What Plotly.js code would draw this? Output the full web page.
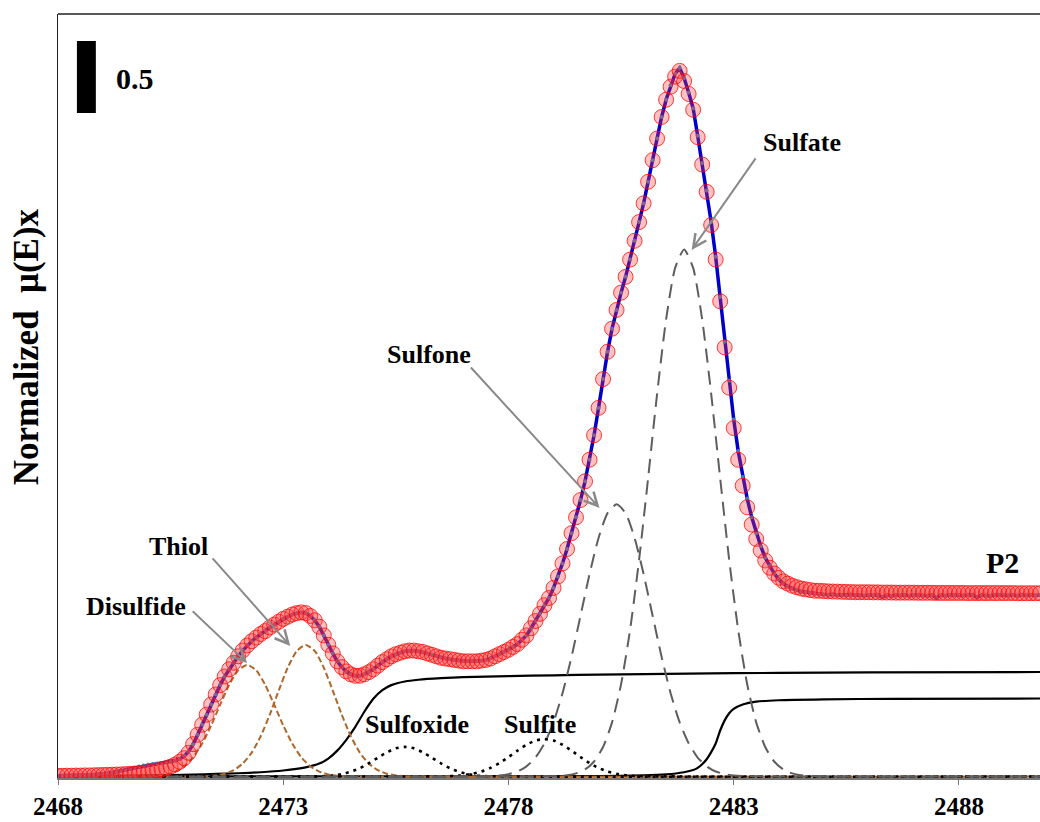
<!DOCTYPE html>
<html><head><meta charset="utf-8">
<script src="https://cdn.plot.ly/plotly-3.0.1.min.js"></script>
<style>html,body{margin:0;padding:0;background:#fff}#chart{width:1040px;height:822px}</style>
</head><body><div id="chart"></div>
<script>
// ---------- data ----------
const energy = [
2468.0,2468.1,2468.2,2468.3,2468.4,2468.5,2468.6,2468.7,2468.8,2468.9,
2469.0,2469.1,2469.2,2469.3,2469.4,2469.5,2469.6,2469.7,2469.8,2469.9,
2470.0,2470.1,2470.2,2470.3,2470.4,2470.5,2470.6,2470.7,2470.8,2470.9,
2471.0,2471.1,2471.2,2471.3,2471.4,2471.5,2471.6,2471.7,2471.8,2471.9,
2472.0,2472.1,2472.2,2472.3,2472.4,2472.5,2472.6,2472.7,2472.8,2472.9,
2473.0,2473.1,2473.2,2473.3,2473.4,2473.5,2473.6,2473.7,2473.8,2473.9,
2474.0,2474.1,2474.2,2474.3,2474.4,2474.5,2474.6,2474.7,2474.8,2474.9,
2475.0,2475.1,2475.2,2475.3,2475.4,2475.5,2475.6,2475.7,2475.8,2475.9,
2476.0,2476.1,2476.2,2476.3,2476.4,2476.5,2476.6,2476.7,2476.8,2476.9,
2477.0,2477.1,2477.2,2477.3,2477.4,2477.5,2477.6,2477.7,2477.8,2477.9,
2478.0,2478.1,2478.2,2478.3,2478.4,2478.5,2478.6,2478.7,2478.8,2478.9,
2479.0,2479.1,2479.2,2479.3,2479.4,2479.5,2479.6,2479.7,2479.8,2479.9,
2480.0,2480.1,2480.2,2480.3,2480.4,2480.5,2480.6,2480.7,2480.8,2480.9,
2481.0,2481.1,2481.2,2481.3,2481.4,2481.5,2481.6,2481.7,2481.8,2481.9,
2482.0,2482.1,2482.2,2482.3,2482.4,2482.5,2482.6,2482.7,2482.8,2482.9,
2483.0,2483.1,2483.2,2483.3,2483.4,2483.5,2483.6,2483.7,2483.8,2483.9,
2484.0,2484.1,2484.2,2484.3,2484.4,2484.5,2484.6,2484.7,2484.8,2484.9,
2485.0,2485.1,2485.2,2485.3,2485.4,2485.5,2485.6,2485.7,2485.8,2485.9,
2486.0,2486.1,2486.2,2486.3,2486.4,2486.5,2486.6,2486.7,2486.8,2486.9,
2487.0,2487.1,2487.2,2487.3,2487.4,2487.5,2487.6,2487.7,2487.8,2487.9,
2488.0,2488.1,2488.2,2488.3,2488.4,2488.5,2488.6,2488.7,2488.8,2488.9,
2489.0,2489.1,2489.2,2489.3,2489.4,2489.5,2489.6,2489.7,2489.8];

// measured spectrum (blue line)
const dataMu = [
0.006,0.006,0.007,0.008,0.009,0.010,0.011,0.012,0.014,0.016,
0.019,0.023,0.028,0.034,0.041,0.048,0.055,0.062,0.069,0.076,
0.082,0.087,0.091,0.095,0.099,0.104,0.111,0.122,0.142,0.175,
0.225,0.29,0.36,0.43,0.50,0.57,0.635,0.695,0.745,0.79,
0.835,0.875,0.91,0.94,0.965,0.99,1.01,1.035,1.055,1.075,
1.095,1.11,1.125,1.135,1.14,1.135,1.115,1.085,1.04,0.98,
0.915,0.855,0.80,0.76,0.73,0.71,0.70,0.70,0.71,0.725,
0.745,0.77,0.795,0.815,0.835,0.85,0.86,0.87,0.875,0.875,
0.87,0.865,0.855,0.845,0.835,0.825,0.82,0.815,0.81,0.805,
0.80,0.80,0.80,0.80,0.805,0.81,0.82,0.835,0.85,0.865,
0.88,0.90,0.92,0.95,0.98,1.03,1.08,1.13,1.19,1.24,
1.31,1.39,1.48,1.58,1.69,1.80,1.92,2.05,2.20,2.37,
2.56,2.76,2.95,3.11,3.24,3.36,3.47,3.59,3.72,3.85,
3.98,4.13,4.28,4.43,4.58,4.70,4.80,4.88,4.92,4.85,
4.75,4.64,4.45,4.26,4.07,3.85,3.61,3.33,3.02,2.75,
2.48,2.26,2.08,1.93,1.80,1.69,1.60,1.52,1.46,1.41,
1.37,1.34,1.32,1.305,1.295,1.285,1.28,1.275,1.27,1.268,
1.265,1.262,1.266,1.260,1.262,1.258,1.264,1.259,1.261,1.255,
1.262,1.258,1.263,1.245,1.260,1.254,1.261,1.258,1.262,1.256,
1.259,1.263,1.257,1.255,1.261,1.240,1.262,1.256,1.260,1.258,
1.262,1.257,1.259,1.263,1.243,1.260,1.258,1.255,1.261,1.259,
1.262,1.257,1.260,1.256,1.263,1.258,1.261,1.257,1.260];

// fitted spectrum (red circles)
const fitMu = [
0.005,0.005,0.006,0.006,0.007,0.007,0.008,0.008,0.009,0.010,
0.011,0.012,0.013,0.014,0.015,0.017,0.019,0.021,0.024,0.027,
0.031,0.036,0.042,0.049,0.058,0.069,0.083,0.102,0.128,0.165,
0.225,0.29,0.36,0.43,0.50,0.57,0.635,0.695,0.745,0.79,
0.835,0.875,0.91,0.94,0.965,0.99,1.01,1.035,1.055,1.075,
1.095,1.11,1.125,1.135,1.14,1.135,1.115,1.085,1.04,0.98,
0.915,0.855,0.80,0.76,0.73,0.71,0.70,0.70,0.71,0.725,
0.745,0.77,0.795,0.815,0.835,0.85,0.86,0.87,0.875,0.875,
0.87,0.865,0.855,0.845,0.835,0.825,0.82,0.815,0.81,0.805,
0.80,0.80,0.80,0.80,0.805,0.81,0.82,0.835,0.85,0.865,
0.88,0.90,0.92,0.95,0.98,1.03,1.08,1.13,1.19,1.24,
1.31,1.39,1.48,1.58,1.69,1.80,1.92,2.05,2.20,2.37,
2.56,2.76,2.95,3.11,3.24,3.36,3.47,3.59,3.72,3.85,
3.98,4.13,4.28,4.43,4.58,4.70,4.79,4.86,4.90,4.83,
4.74,4.63,4.44,4.25,4.06,3.83,3.59,3.30,2.98,2.70,
2.42,2.20,2.02,1.87,1.75,1.65,1.57,1.50,1.45,1.41,
1.38,1.355,1.34,1.325,1.315,1.305,1.30,1.295,1.29,1.29,
1.288,1.286,1.285,1.284,1.283,1.282,1.281,1.28,1.28,1.28,
1.28,1.279,1.279,1.278,1.278,1.278,1.277,1.277,1.277,1.277,
1.277,1.276,1.276,1.276,1.276,1.275,1.275,1.275,1.275,1.275,
1.275,1.275,1.274,1.274,1.274,1.274,1.274,1.274,1.274,1.274,
1.274,1.274,1.274,1.273,1.273,1.273,1.273,1.273,1.273];

// fitted components
const disulfideE  = [2468,2470.0,2470.2,2470.4,2470.6,2470.8,2471.0,2471.2,2471.4,2471.6,2471.8,2472.0,2472.2,2472.4,2472.6,2472.8,2473.0,2473.2,2473.4,2473.6,2473.8,2474.0,2474.2,2474.4,2489.8];
const disulfideMu = [0,0.002,0.006,0.015,0.034,0.071,0.134,0.229,0.355,0.499,0.637,0.738,0.775,0.738,0.637,0.499,0.355,0.229,0.134,0.071,0.034,0.015,0.006,0.002,0];

const thiolE  = [2468,2471.3,2471.5,2471.7,2471.9,2472.1,2472.3,2472.5,2472.7,2472.9,2473.1,2473.3,2473.5,2473.7,2473.9,2474.1,2474.3,2474.5,2474.7,2474.9,2475.1,2475.3,2475.5,2475.7,2489.8];
const thiolMu = [0,0.003,0.008,0.020,0.044,0.090,0.166,0.280,0.429,0.597,0.756,0.872,0.914,0.872,0.756,0.597,0.429,0.280,0.166,0.090,0.044,0.020,0.008,0.003,0];

const sulfoxideE  = [2468,2473.9,2474.1,2474.3,2474.5,2474.7,2474.9,2475.1,2475.3,2475.5,2475.7,2475.9,2476.1,2476.3,2476.5,2476.7,2476.9,2477.1,2477.3,2477.5,2489.8];
const sulfoxideMu = [0,0.003,0.008,0.017,0.034,0.058,0.092,0.131,0.168,0.196,0.206,0.196,0.168,0.131,0.092,0.058,0.034,0.017,0.008,0.003,0];

const sulfiteE  = [2468,2476.6,2476.8,2477.0,2477.2,2477.4,2477.6,2477.8,2478.0,2478.2,2478.4,2478.6,2478.8,2479.0,2479.2,2479.4,2479.6,2479.8,2480.0,2480.2,2480.4,2480.6,2480.8,2481.0,2489.8];
const sulfiteMu = [0,0.002,0.004,0.0095,0.019,0.035,0.060,0.094,0.135,0.180,0.221,0.250,0.26,0.250,0.221,0.180,0.135,0.094,0.060,0.035,0.019,0.0095,0.004,0.002,0];

const sulfoneE  = [2468,2477.6,2477.8,2478.0,2478.2,2478.4,2478.6,2478.8,2479.0,2479.2,2479.4,2479.6,2479.8,2480.0,2480.2,2480.4,2480.6,2480.8,2481.0,2481.2,2481.4,2481.6,2481.8,2482.0,2482.2,2482.4,2482.6,2482.8,2483.0,2483.2,2489.8];
const sulfoneMu = [0,0.003,0.007,0.017,0.035,0.071,0.132,0.231,0.377,0.579,0.831,1.117,1.406,1.657,1.829,1.89,1.829,1.657,1.406,1.117,0.831,0.579,0.377,0.231,0.132,0.071,0.035,0.017,0.007,0.003,0];

const sulfateE  = [2468,2479.1,2479.3,2479.5,2479.7,2479.9,2480.1,2480.3,2480.5,2480.7,2480.9,2481.1,2481.3,2481.5,2481.7,2481.9,2482.1,2482.3,2482.5,2482.7,2482.9,2483.1,2483.3,2483.5,2483.7,2483.9,2484.1,2484.3,2484.5,2484.7,2489.8];
const sulfateMu = [0,0.0034,0.009,0.0219,0.0496,0.1045,0.205,0.376,0.641,1.018,1.505,2.072,2.658,3.175,3.532,3.66,3.532,3.175,2.658,2.072,1.505,1.018,0.641,0.376,0.205,0.1045,0.0496,0.0219,0.009,0.0034,0];

const step1E  = [2468,2469,2470,2470.5,2471,2471.5,2472,2472.5,2473,2473.5,2473.8,2474.0,2474.2,2474.4,2474.6,2474.8,2475.0,2475.2,2475.4,2475.7,2476.0,2476.5,2477,2478,2479,2480,2482,2484,2486,2489.8];
const step1Mu = [0.003,0.006,0.009,0.011,0.014,0.018,0.023,0.030,0.042,0.064,0.09,0.125,0.18,0.255,0.345,0.45,0.54,0.60,0.635,0.66,0.672,0.683,0.69,0.698,0.703,0.708,0.715,0.72,0.723,0.726];

const step2E  = [2468,2479,2480,2481,2481.5,2481.9,2482.1,2482.2,2482.3,2482.4,2482.5,2482.6,2482.7,2482.8,2482.9,2483.0,2483.2,2483.5,2484.0,2485.0,2486.5,2489.8];
const step2Mu = [0,0.002,0.004,0.008,0.015,0.03,0.045,0.06,0.085,0.12,0.17,0.23,0.32,0.39,0.44,0.47,0.50,0.52,0.53,0.536,0.54,0.542];

const tickVals   = [2468,2473,2478,2483,2488];
const tickLabels = ['2468','2473','2478','2483','2488'];

const labelText = ['Sulfate','Sulfone','Thiol','Disulfide','Sulfoxide','Sulfite'];
const labelX    = [2484.51,2476.24,2470.67,2469.73,2475.96,2478.69];
const labelY    = [4.40,2.934,1.595,1.178,0.360,0.360];

const arrowHeadX = [2482.067,2480.022,2473.156,2472.20];
const arrowHeadY = [3.657,1.865,0.907,0.789];
const arrowTailDX = [65,-130,-79,-56];
const arrowTailDY = [-93,-142,-89,-53];

const scaleBar = {x0:2468.42, x1:2468.84, y0:4.608, size:0.5, label:'0.5'};

// ---------- drawing ----------
const SERIF = 'Liberation Serif, "Times New Roman", serif';

function comp(x, y, color, dash, width){
  return {x:x, y:y, type:'scatter', mode:'lines', hoverinfo:'skip', showlegend:false,
          line:{color:color, dash:dash, width:width, shape:'spline', smoothing:0.6}};
}
const BROWN = '#b0672a', GRAY = '#5e5e5e';

const traces = [
  comp(step1E, step1Mu, '#000', 'solid', 2.2),
  comp(step2E, step2Mu, '#000', 'solid', 2.2),
  comp(disulfideE, disulfideMu, BROWN, '6px,3px', 2),
  comp(thiolE, thiolMu, BROWN, '6px,3px', 2),
  comp(sulfoxideE, sulfoxideMu, '#000', '3px,5px', 2.6),
  comp(sulfiteE, sulfiteMu, '#000', '3px,5px', 2.6),
  comp(sulfoneE, sulfoneMu, GRAY, '14px,8px', 2),
  comp(sulfateE, sulfateMu, GRAY, '14px,8px', 2),
  {x:energy, y:dataMu, type:'scatter', mode:'lines+markers', showlegend:false, hoverinfo:'skip',
   line:{color:'#0000c8', width:3.5}, marker:{size:4, color:'#4a78b8'}},
  {x:energy, y:fitMu, type:'scatter', mode:'markers', showlegend:false, hoverinfo:'skip',
   marker:{symbol:'circle', size:15, color:'rgba(255,60,60,0.32)', line:{color:'rgba(255,0,0,0.75)', width:1}}}
];

const annotations = [];
for (let i = 0; i < arrowHeadX.length; i++) {
  annotations.push({x:arrowHeadX[i], y:arrowHeadY[i], xref:'x', yref:'y', text:'',
    showarrow:true, arrowhead:5, arrowsize:1.3, arrowwidth:2, arrowcolor:'#8a8a8a',
    ax:arrowTailDX[i], ay:arrowTailDY[i], standoff:0});
}
for (let i = 0; i < labelText.length; i++) {
  annotations.push({x:labelX[i], y:labelY[i], xref:'x', yref:'y', text:labelText[i], showarrow:false,
    xanchor:'center', yanchor:'middle', font:{family:SERIF, size:26, color:'#000', weight:'bold'}});
}
annotations.push({x:2488.96, y:1.483, xref:'x', yref:'y', text:'P2', showarrow:false,
  xanchor:'center', yanchor:'middle', font:{family:SERIF, size:30, color:'#000', weight:'bold'}});
annotations.push({x:2469.24, y:4.845, xref:'x', yref:'y', text:scaleBar.label, showarrow:false,
  xanchor:'left', yanchor:'middle', font:{family:SERIF, size:30, color:'#000', weight:'bold'}});
annotations.push({x:-0.0326, y:0.565, xref:'paper', yref:'paper', text:'Normalized\u00a0 μ(E)x',
  textangle:-90, showarrow:false, xanchor:'center', yanchor:'middle',
  font:{family:SERIF, size:35, color:'#000', weight:'bold'}});

const layout = {
  width:1040, height:822,
  margin:{l:58, r:0, t:14, b:44},
  paper_bgcolor:'#fff', plot_bgcolor:'#fff',
  showlegend:false,
  xaxis:{range:[2468,2489.8], tickmode:'array', tickvals:tickVals, ticktext:tickLabels,
    ticks:'outside', ticklen:5, tickwidth:1, tickcolor:'#777',
    showline:true, linecolor:'#777', linewidth:1.5, showgrid:false, zeroline:false,
    tickfont:{family:SERIF, size:25, color:'#000', weight:'bold'}},
  yaxis:{range:[-0.01,5.295], showticklabels:false, ticks:'', showline:true, linecolor:'#222',
    linewidth:1.5, showgrid:false, zeroline:false},
  shapes:[
    {type:'line', xref:'paper', yref:'paper', x0:0, x1:1, y0:1, y1:1, line:{color:'#222', width:1.5}},
    {type:'rect', xref:'x', yref:'y', x0:scaleBar.x0, x1:scaleBar.x1, y0:scaleBar.y0, y1:scaleBar.y0+scaleBar.size,
     fillcolor:'#000', line:{width:0}, layer:'above'}
  ],
  annotations:annotations
};

Plotly.newPlot('chart', traces, layout, {displayModeBar:false, staticPlot:true});
</script>
</body></html>
